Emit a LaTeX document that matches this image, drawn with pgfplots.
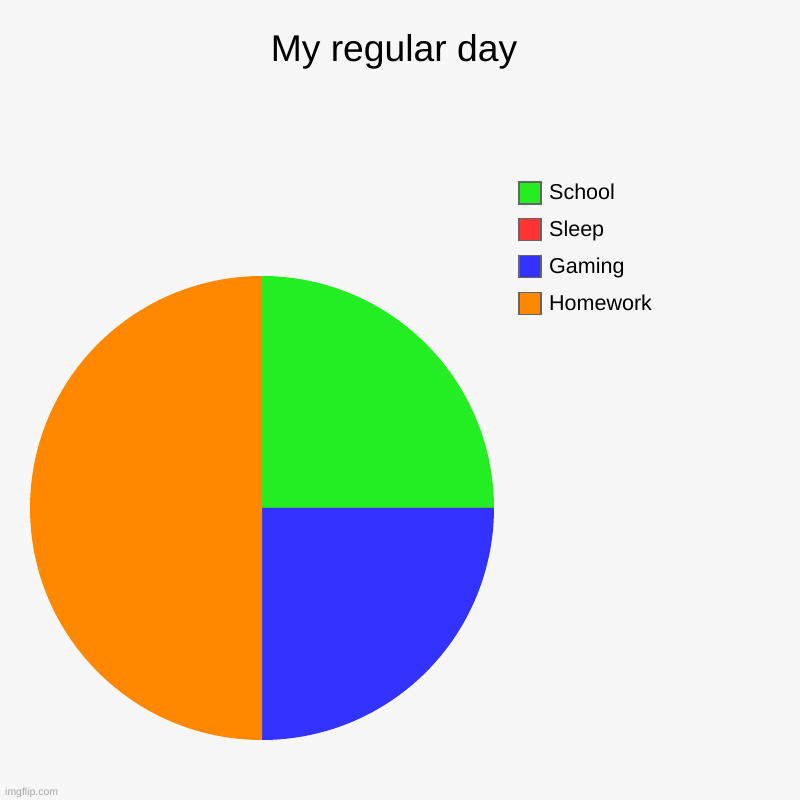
\documentclass[border=0pt]{standalone}
\usepackage{fontspec}
\setmainfont{Liberation Sans}
\usepackage{pgfplots}
\usepackage{pgfplotstable}
\pgfplotsset{compat=1.18}

\definecolor{bgc}{HTML}{F7F7F7}
\definecolor{schoolc}{HTML}{22EE22}
\definecolor{sleepc}{HTML}{FF3333}
\definecolor{gamingc}{HTML}{3333FF}
\definecolor{homeworkc}{HTML}{FF8800}
\definecolor{edgec}{HTML}{666666}

% share of the day, clockwise from 12 o'clock
\pgfplotstableread{
label value color
School 25 schoolc
Sleep 0 sleepc
Gaming 25 gamingc
Homework 50 homeworkc
}\piedata

\begin{document}
\begin{tikzpicture}
\fill[bgc] (0,0) rectangle (800bp,800bp);
\node[anchor=base, font=\fontsize{37.4}{40}\selectfont] at (394bp,738bp) {My regular day};
\node[anchor=base west, text=black!35, inner sep=0pt, font=\fontsize{10.5}{12}\selectfont] at (5bp,5bp) {imgflip.com};

\begin{axis}[
  scale only axis,
  width=464bp, height=464bp,
  xmin=-1, xmax=1, ymin=-1, ymax=1,
  hide axis,
  at={(262bp,292bp)}, anchor=center,
  legend cell align=left,
  legend image code/.code={
    \draw[#1, draw=edgec, line width=1.5bp] (0bp,-11bp) rectangle (22bp,11bp);
    \path (30bp,0bp);
  },
  legend style={
    at={(488bp,559bp)}, anchor=north west,
    draw=none, fill=none, inner sep=0pt,
    font=\fontsize{21.6}{24}\selectfont,
    row sep=13.3bp,
    nodes={inner sep=0pt},
  },
]
\pgfplotstablegetrowsof{\piedata}
\pgfmathtruncatemacro\lastrow{\pgfplotsretval-1}
\def\cum{0}
\pgfplotsforeachungrouped \i in {0,...,\lastrow}{%
  \pgfplotstablegetelem{\i}{value}\of\piedata \let\val\pgfplotsretval
  \pgfplotstablegetelem{\i}{color}\of\piedata \let\col\pgfplotsretval
  \pgfmathsetmacro\start{90-3.6*\cum}%
  \pgfmathsetmacro\stop{90-3.6*(\cum+\val)}%
  \pgfmathsetmacro\cum{\cum+\val}%
  \edef\temp{\noexpand\fill[\col] (axis cs:0,0) -- (axis cs:{cos(\start)},{sin(\start)})
    arc[start angle=\start, end angle=\stop, radius=232bp] -- cycle;}%
  \temp
}
\addlegendimage{fill=schoolc}\addlegendentry{School}
\addlegendimage{fill=sleepc}\addlegendentry{Sleep}
\addlegendimage{fill=gamingc}\addlegendentry{Gaming}
\addlegendimage{fill=homeworkc}\addlegendentry{Homework}
\end{axis}
\end{tikzpicture}
\end{document}
